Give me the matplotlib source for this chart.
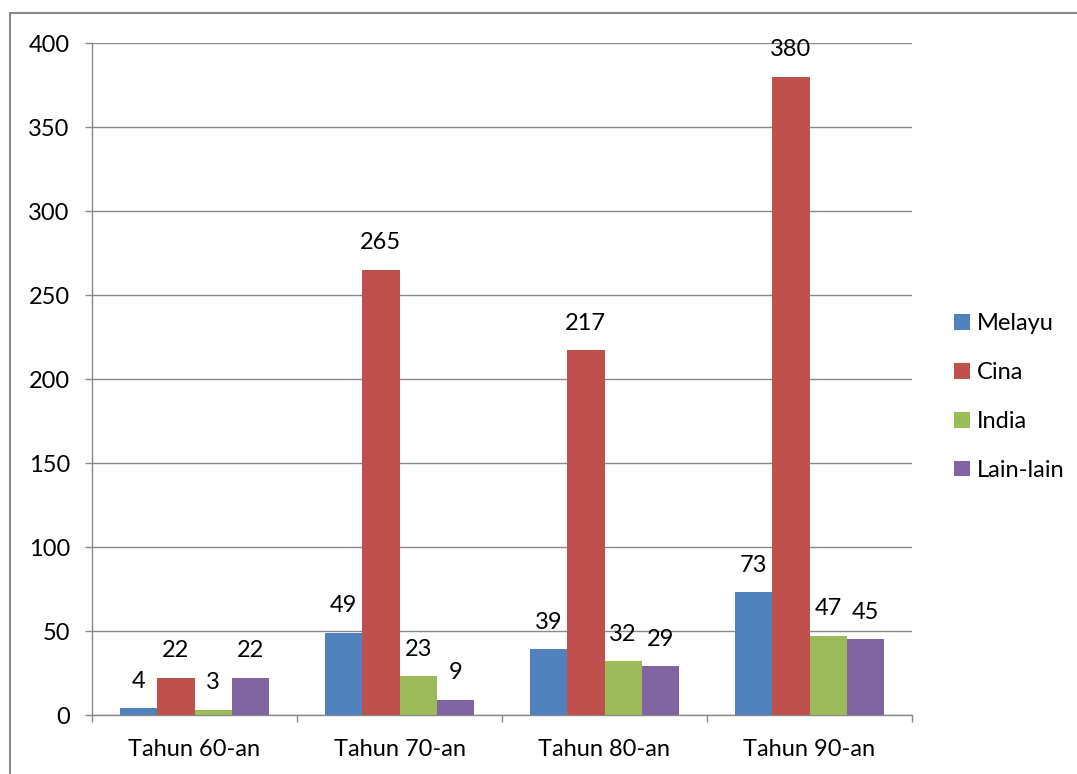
import matplotlib
matplotlib.use('Agg')
import matplotlib.pyplot as plt
import numpy as np
from matplotlib.patches import Rectangle, Patch

plt.rcParams['font.family'] = ['Lato', 'DejaVu Sans']

categories = ['Tahun 60-an', 'Tahun 70-an', 'Tahun 80-an', 'Tahun 90-an']
series = ['Melayu', 'Cina', 'India', 'Lain-lain']
melayu = [4, 49, 39, 73]
cina = [22, 265, 217, 380]
india = [3, 23, 32, 47]
lain = [22, 9, 29, 45]
values = [melayu, cina, india, lain]
colors = ['#4F81BD', '#C0504D', '#9BBB59', '#8064A2']
grid_col = '#898989'
fs = 17

fig = plt.figure(figsize=(10.77, 7.74), dpi=100)
ax = fig.add_axes([92/1077, 1-715/774, 820/1077, 672/774])

# outer chart border (runs off the right/bottom of the picture)
fig.patches.append(Rectangle((10/1077, -0.05), 1.2, 1-13/774+0.05,
                             transform=fig.transFigure, fill=False,
                             edgecolor=grid_col, linewidth=1.5))

x = np.arange(len(categories))
w = 1/5.5
for i, (name, vals, c) in enumerate(zip(series, values, colors)):
    pos = x + (i - 1.5) * w
    ax.bar(pos, vals, width=w, color=c, label=name, zorder=3)
    for p, v in zip(pos, vals):
        ax.annotate(str(v), (p, v), xytext=(0, 19.5), textcoords='offset points',
                    ha='center', va='center', fontsize=fs)

ax.set_xlim(-0.5, 3.5)
ax.set_ylim(0, 400)
ax.set_yticks(range(0, 401, 50))
ax.yaxis.grid(True, color=grid_col, linewidth=1)
ax.set_axisbelow(True)
ax.set_xticks(x)
ax.set_xticklabels(categories)
ax.set_xticks(np.arange(-0.5, 4, 1), minor=True)
ax.tick_params(axis='x', which='major', length=0, pad=17, labelsize=fs)
ax.tick_params(axis='x', which='minor', length=5, width=1, color=grid_col)
ax.tick_params(axis='y', length=5, width=1, color=grid_col, pad=11, labelsize=fs)
for s in ['top', 'right']:
    ax.spines[s].set_visible(False)
for s in ['left', 'bottom']:
    ax.spines[s].set_color(grid_col)
    ax.spines[s].set_linewidth(1)

handles = [Patch(facecolor=c, label=n) for n, c in zip(series, colors)]
fig.legend(handles=handles, loc='center left', bbox_to_anchor=(933/1077, 1-397/774),
           frameon=False, fontsize=fs, handlelength=0.65, handleheight=0.65,
           handletextpad=0.3, labelspacing=1.18)

fig.savefig('out.png', dpi=100)
